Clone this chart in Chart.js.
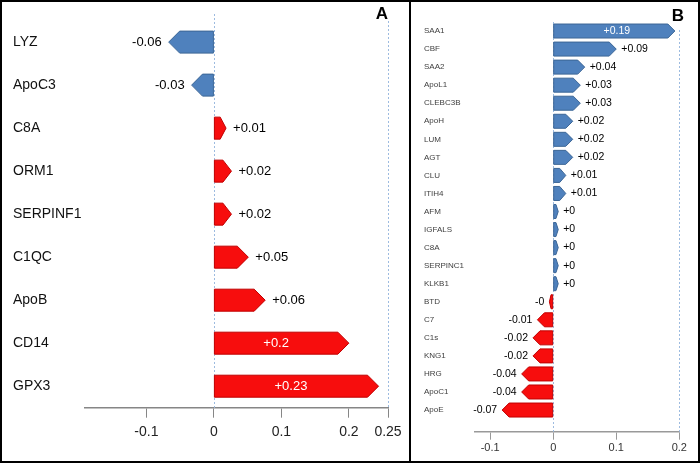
<!DOCTYPE html>
<html lang="en">

<head>
    <meta charset="UTF-8">
    <title>Proteinas - A / B</title>
    <script src="https://cdn.jsdelivr.net/npm/chart.js"></script>
    <style>
        body { margin: 0; background: #fff; }
        .quadro { position: relative; width: 700px; height: 463px; box-sizing: border-box; border: 2px solid #000; background: #fff; }
        .painelA { position: absolute; left: 0; top: 0; }
        .painelB { position: absolute; left: 409px; top: 0; }
        .divisoria { position: absolute; left: 407px; top: 0; width: 2px; height: 459px; background: #000; }
        .letra { position: absolute; font-family: 'Liberation Sans', Arial, sans-serif; font-weight: bold; font-size: 17px; color: #000; transform: translate(-50%, -50%); }
    </style>
</head>

<body>
    <div class="quadro">
        <canvas id="graficoA" class="painelA" width="406" height="459"></canvas>
        <div class="divisoria"></div>
        <canvas id="graficoB" class="painelB" width="287" height="459"></canvas>
        <div class="letra" style="left: 380px; top: 12px;">A</div>
        <div class="letra" style="left: 676px; top: 14px;">B</div>
    </div>
</body>

</html>

<script>
    // painel A
    const genesA = ['LYZ', 'ApoC3', 'C8A', 'ORM1', 'SERPINF1', 'C1QC', 'ApoB', 'CD14', 'GPX3'];
    const valoresA = [-0.067, -0.033, 0.018, 0.026, 0.026, 0.051, 0.076, 0.2, 0.244];
    const textosA = ['-0.06', '-0.03', '+0.01', '+0.02', '+0.02', '+0.05', '+0.06', '+0.2', '+0.23'];
    const ticksA = [-0.1, 0, 0.1, 0.2, 0.258];
    const textoTicksA = ['-0.1', '0', '0.1', '0.2', '0.25'];

    // painel B
    const genesB = ['SAA1', 'CBF', 'SAA2', 'ApoL1', 'CLEBC3B', 'ApoH', 'LUM', 'AGT', 'CLU', 'ITIH4', 'AFM',
        'IGFALS', 'C8A', 'SERPINC1', 'KLKB1', 'BTD', 'C7', 'C1s', 'KNG1', 'HRG', 'ApoC1', 'ApoE'];
    const valoresB = [0.193, 0.1, 0.05, 0.043, 0.043, 0.031, 0.031, 0.031, 0.02, 0.02, 0.008,
        0.008, 0.008, 0.008, 0.008, -0.006, -0.025, -0.032, -0.032, -0.05, -0.05, -0.081];
    const textosB = ['+0.19', '+0.09', '+0.04', '+0.03', '+0.03', '+0.02', '+0.02', '+0.02', '+0.01', '+0.01', '+0',
        '+0', '+0', '+0', '+0', '-0', '-0.01', '-0.02', '-0.02', '-0.04', '-0.04', '-0.07'];
    const ticksB = [-0.1, 0, 0.1, 0.2];
    const textoTicksB = ['-0.1', '0', '0.1', '0.2'];

    const AZUL = '#4f81bd', AZUL_BORDA = '#3c6696';
    const VERMELHO = '#f70d0d', VERMELHO_BORDA = '#c00000';
    const FONTE = "'Liberation Sans', Arial, sans-serif";

    // desenha as barras em forma de seta + rotulos + linhas pontilhadas
    const pluginSetas = {
        id: 'setas',
        beforeDatasetsDraw(chart, args, o) {
            const ctx = chart.ctx;
            const escala = chart.scales.x;
            ctx.save();
            ctx.strokeStyle = '#9dbbe0';
            ctx.lineWidth = 1;
            ctx.setLineDash([2, 2]);
            o.linhas.forEach(l => {
                const px = Math.round(escala.getPixelForValue(l.valor)) + 0.5;
                ctx.beginPath();
                ctx.moveTo(px, l.topo);
                ctx.lineTo(px, chart.chartArea.bottom);
                ctx.stroke();
            });
            ctx.restore();
        },
        afterDatasetsDraw(chart, args, o) {
            const ctx = chart.ctx;
            const meta = chart.getDatasetMeta(0);
            ctx.save();
            meta.data.forEach((barra, i) => {
                const { x, y, base, height } = barra.getProps(['x', 'y', 'base', 'height'], true);
                const dir = x >= base ? 1 : -1;
                const w = Math.abs(x - base);
                const ponta = Math.min(height / 2, w * 0.5);
                const corpo = x - dir * ponta;
                const t = y - height / 2, b = y + height / 2;

                ctx.beginPath();
                ctx.moveTo(base, t);
                ctx.lineTo(corpo, t);
                ctx.lineTo(x, y);
                ctx.lineTo(corpo, b);
                ctx.lineTo(base, b);
                ctx.closePath();
                ctx.fillStyle = o.cores[i];
                ctx.fill();
                ctx.strokeStyle = o.bordas[i];
                ctx.lineWidth = 1;
                ctx.stroke();

                ctx.font = o.fonte;
                ctx.textBaseline = 'middle';
                if (w > o.dentro) {
                    ctx.fillStyle = '#fff';
                    ctx.textAlign = 'center';
                    ctx.fillText(o.textos[i], (base + corpo) / 2 + o.desvio, y);
                } else {
                    ctx.fillStyle = '#000';
                    ctx.textAlign = dir > 0 ? 'left' : 'right';
                    ctx.fillText(o.textos[i], x + dir * o.folga, y);
                }
            });
            ctx.restore();
        }
    };

    function plotarA() {
        const config = {
            type: 'bar',
            data: {
                labels: genesA,
                datasets: [{
                    data: valoresA,
                    backgroundColor: 'rgba(0,0,0,0)',
                    borderWidth: 0,
                    barThickness: 22
                }]
            },
            options: {
                indexAxis: 'y',
                responsive: false,
                animation: false,
                layout: { padding: { left: 11, right: 20, top: 18.6, bottom: 13.3 } },
                plugins: {
                    legend: { display: false },
                    tooltip: { enabled: false },
                    setas: {
                        cores: valoresA.map(v => v < 0 ? AZUL : VERMELHO),
                        bordas: valoresA.map(v => v < 0 ? AZUL_BORDA : VERMELHO_BORDA),
                        textos: textosA,
                        fonte: '13px ' + FONTE,
                        dentro: 100,
                        desvio: 0,
                        folga: 7,
                        linhas: [{ valor: 0, topo: 12 }, { valor: 0.258, topo: 19 }]
                    }
                },
                scales: {
                    x: {
                        min: -0.191,
                        max: 0.258,
                        afterBuildTicks: s => { s.ticks = ticksA.map(v => ({ value: v })); },
                        afterFit: s => { s.height = 40; },
                        grid: { drawOnChartArea: false, tickLength: 10, color: '#868686' },
                        border: { color: '#868686', width: 1.5 },
                        ticks: {
                            callback: (v, i) => textoTicksA[i],
                            font: { family: FONTE, size: 14 },
                            color: '#222',
                            padding: 6,
                            maxRotation: 0,
                            autoSkip: false
                        }
                    },
                    y: {
                        grid: { display: false },
                        border: { display: false },
                        afterFit: s => { s.width = 72; },
                        ticks: { crossAlign: 'far', font: { family: FONTE, size: 14 }, color: '#111', padding: 0 }
                    }
                }
            },
            plugins: [pluginSetas]
        };
        new Chart(document.getElementById('graficoA'), config);
    }

    function plotarB() {
        const config = {
            type: 'bar',
            data: {
                datasets: [{
                    data: valoresB.map((v, i) => ({ x: v, y: i })),
                    backgroundColor: 'rgba(0,0,0,0)',
                    borderWidth: 0,
                    barThickness: 14
                }]
            },
            options: {
                indexAxis: 'y',
                responsive: false,
                animation: false,
                layout: { padding: { left: 13, right: 18.7, top: 20, bottom: 5.3 } },
                plugins: {
                    legend: { display: false },
                    tooltip: { enabled: false },
                    setas: {
                        cores: valoresB.map(v => v < 0 ? VERMELHO : AZUL),
                        bordas: valoresB.map(v => v < 0 ? VERMELHO_BORDA : AZUL_BORDA),
                        textos: textosB,
                        fonte: '10.5px ' + FONTE,
                        dentro: 80,
                        desvio: 6,
                        folga: 5,
                        linhas: [{ valor: 0, topo: 20 }, { valor: 0.2, topo: 28 }]
                    }
                },
                scales: {
                    x: {
                        min: -0.124,
                        max: 0.2,
                        afterBuildTicks: s => { s.ticks = ticksB.map(v => ({ value: v })); },
                        afterFit: s => { s.height = 24; },
                        grid: { drawOnChartArea: false, tickLength: 8, color: '#999' },
                        border: { color: '#999', width: 1.5 },
                        ticks: {
                            callback: (v, i) => textoTicksB[i],
                            font: { family: FONTE, size: 11 },
                            color: '#333',
                            padding: 2,
                            maxRotation: 0,
                            autoSkip: false
                        }
                    },
                    y: {
                        type: 'linear',
                        reverse: true,
                        offset: false,
                        min: -0.5,
                        max: 22.2,
                        afterBuildTicks: s => { s.ticks = genesB.map((g, i) => ({ value: i })); },
                        afterFit: s => { s.width = 51; },
                        grid: { display: false, offset: false },
                        border: { display: false },
                        ticks: {
                            callback: v => genesB[v],
                            crossAlign: 'far',
                            font: { family: FONTE, size: 8 },
                            color: '#404040',
                            padding: 0,
                            autoSkip: false
                        }
                    }
                }
            },
            plugins: [pluginSetas]
        };
        new Chart(document.getElementById('graficoB'), config);
    }

    plotarA();
    plotarB();
</script>
